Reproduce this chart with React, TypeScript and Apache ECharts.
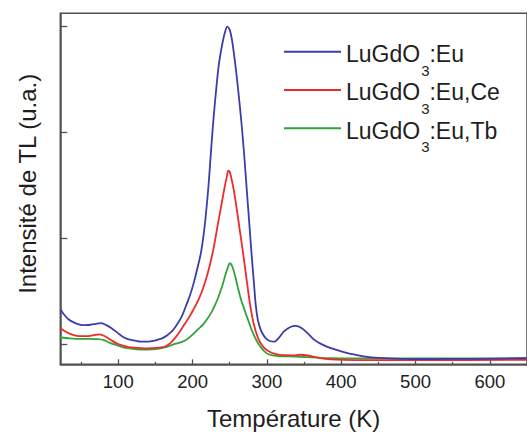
import React, { useEffect, useRef } from "react";
import * as echarts from "echarts";

const seriesNames = ["LuGdO3:Eu", "LuGdO3:Eu,Ce", "LuGdO3:Eu,Tb"];
const seriesColors = ["#3c3caa", "#ee2a2a", "#32a336"];

const xTickValues = [100, 200, 300, 400, 500, 600];
const xMinorTickValues = [50, 150, 250, 350, 450, 550, 650];
const yTickValues = [18.9, 118.9, 218.9, 318.9];

const blueData = [
  [22, 52], [27, 47], [33, 42.5], [40, 39.5], [48, 37.5], [55, 37], [63, 37.3], [70, 38.2], [77, 38.8],
  [84, 37], [91, 34], [97, 30.8], [105, 26.5], [112, 24], [119, 22.8], [128, 21.5], [137, 21.3],
  [145, 21.8], [152, 23], [159, 24.5], [166, 27.5], [172, 31], [177, 35.5], [185, 44.5], [192.4, 57.5],
  [197, 66], [202, 78], [207, 92], [211.1, 104.7], [215, 123], [218, 142], [221.3, 167.5], [224.5, 198],
  [228, 230.5], [232, 261], [235, 281], [237.7, 293.4], [240.5, 304], [243.5, 313], [246.7, 318.5],
  [250, 315.5], [253, 306], [255.6, 293.4], [259, 274], [262.5, 251], [266, 226], [269.5, 197],
  [273, 164], [276.5, 131], [279.5, 103], [282.5, 77], [285, 56], [287.5, 43], [290, 36], [293, 30.5],
  [298, 25], [304, 22], [310, 21.3], [316, 25], [323, 31], [331, 35], [339, 36.2], [347, 34],
  [355, 29.2], [363, 23.5], [372, 19.5], [385, 15.5], [400, 12.3], [415, 9.5], [430, 7.5], [450, 6],
  [480, 5.2], [520, 5], [580, 5.2], [650, 5.7],
];

const redData = [
  [22, 34], [30, 30.5], [38, 28], [48, 26.5], [58, 26.5], [67, 27.5], [75, 28.3], [82, 26.5], [90, 23],
  [97, 20], [105, 17.8], [114, 16.3], [123, 15.6], [135, 15], [145, 15.2], [155, 15.8], [163, 16.8],
  [170, 20], [176, 24.5], [182, 30], [188, 36.5], [195, 44], [201, 51.5], [208, 61], [214, 71.5],
  [220, 85], [225.7, 101], [230, 116], [235, 136], [239.5, 153], [243.5, 168.5], [246.5, 178.5],
  [248, 182.6], [250, 181.5], [252.5, 174.5], [255.5, 164], [258.3, 151.9], [263, 129], [268, 104.7],
  [272.5, 81], [276.9, 58.5], [282, 39], [288, 25], [295, 16.5], [303.6, 11.9], [312, 9.7], [322, 8.6],
  [335, 8.5], [345, 9], [355, 8.3], [370, 6], [386, 4.7], [420, 4], [500, 4], [650, 4.2],
];

const greenData = [
  [22, 25.5], [35, 24.5], [50, 24], [62, 24], [72, 23.8], [80, 23], [88, 20.5], [97, 18.2], [105, 16.3],
  [115, 15], [125, 14.2], [135, 13.8], [145, 14], [155, 14.8], [165, 16.5], [175, 19], [185, 21],
  [192, 23.5], [200, 28], [208, 33.5], [214, 37.5], [219, 42], [225, 48.5], [230, 55.5], [235, 64],
  [240, 74], [244, 84], [247, 90.5], [250.3, 95.3], [253.5, 92], [257, 84], [260.4, 74], [265, 61.5],
  [270, 51], [274.7, 41.8], [280, 31.5], [285.7, 22.9], [292, 15.8], [299, 10.8], [306, 8.6],
  [315, 7.7], [330, 7.4], [345, 7.1], [360, 6.6], [385, 5.8], [450, 5.5], [650, 5.7],
];

const allData = [blueData, redData, greenData];

const FONT = "'Liberation Sans', Arial, Helvetica, sans-serif";
const AXIS_COLOR = "#505050";
const TEXT_COLOR = "#1e1e1e";

export default function App() {
  const ref = useRef<HTMLDivElement>(null);

  useEffect(() => {
    if (!ref.current) return;
    const chart = echarts.init(ref.current, undefined, { renderer: "svg" });
    const xBase = {
      type: "value",
      min: 22,
      max: 650,
      splitLine: { show: false },
    };
    chart.setOption({
      animation: false,
      backgroundColor: "#ffffff",
      grid: {
        left: 60.3,
        right: -4.3,
        top: 13.3,
        bottom: 71.7,
        show: true,
        borderColor: AXIS_COLOR,
        borderWidth: 1.5,
        backgroundColor: "transparent",
      },
      legend: {
        orient: "vertical",
        left: 284,
        top: 25.8,
        padding: 0,
        itemGap: -13.5,
        itemWidth: 57,
        itemHeight: 2,
        icon: "rect",
        selectedMode: false,
        data: seriesNames,
        formatter: (name: string) => {
          const parts = name.split("3");
          return `{m|${parts[0]}}{s|3}{m|${parts[1]}}`;
        },
        textStyle: {
          fontFamily: FONT,
          color: TEXT_COLOR,
          rich: {
            m: {
              fontFamily: FONT,
              fontSize: 23,
              lineHeight: 23,
              color: TEXT_COLOR,
              padding: [4.8, 0, 0, 0],
              verticalAlign: "middle",
            },
            s: {
              fontFamily: FONT,
              fontSize: 15,
              lineHeight: 23,
              color: TEXT_COLOR,
              padding: [36.8, 0, 0, 1],
              verticalAlign: "middle",
            },
          },
        },
      },
      xAxis: [
        {
          ...xBase,
          position: "bottom",
          name: "Température (K)",
          nameLocation: "middle",
          nameGap: 42,
          nameTextStyle: { fontFamily: FONT, fontSize: 24, color: TEXT_COLOR },
          axisLine: { show: true, lineStyle: { color: AXIS_COLOR, width: 1.5 } },
          axisTick: {
            show: true,
            inside: true,
            length: 5,
            customValues: xTickValues,
            lineStyle: { color: AXIS_COLOR, width: 1.3 },
          },
          axisLabel: {
            show: true,
            customValues: xTickValues,
            margin: 8,
            fontFamily: FONT,
            fontSize: 18.5,
            color: TEXT_COLOR,
          },
        },
        {
          ...xBase,
          position: "bottom",
          axisLine: { show: false },
          axisTick: {
            show: true,
            inside: true,
            length: 2.5,
            customValues: xMinorTickValues,
            lineStyle: { color: AXIS_COLOR, width: 1.2 },
          },
          axisLabel: { show: false },
        },
      ],
      yAxis: {
        type: "value",
        min: 0,
        max: 331.1,
        name: "Intensité de TL (u.a.)",
        nameLocation: "middle",
        nameGap: 21,
        nameTextStyle: {
          fontFamily: FONT,
          fontSize: 24,
          color: TEXT_COLOR,
          padding: [0, 0, 0, 10],
        },
        splitLine: { show: false },
        axisLine: { show: true, lineStyle: { color: AXIS_COLOR, width: 1.5 } },
        axisTick: {
          show: true,
          inside: true,
          length: 7,
          customValues: yTickValues,
          lineStyle: { color: AXIS_COLOR, width: 1.3 },
        },
        axisLabel: { show: false },
      },
      series: seriesNames.map((name, i) => ({
        name,
        type: "line",
        xAxisIndex: 0,
        data: allData[i],
        symbol: "none",
        smooth: 0.3,
        clip: true,
        lineStyle: { color: seriesColors[i], width: 1.8 },
        itemStyle: { color: seriesColors[i] },
        z: 3 - i,
      })),
    });
    return () => chart.dispose();
  }, []);

  return (
    <div
      ref={ref}
      style={{ position: "fixed", left: 0, top: 0, width: 527, height: 436, background: "#fff" }}
    />
  );
}
